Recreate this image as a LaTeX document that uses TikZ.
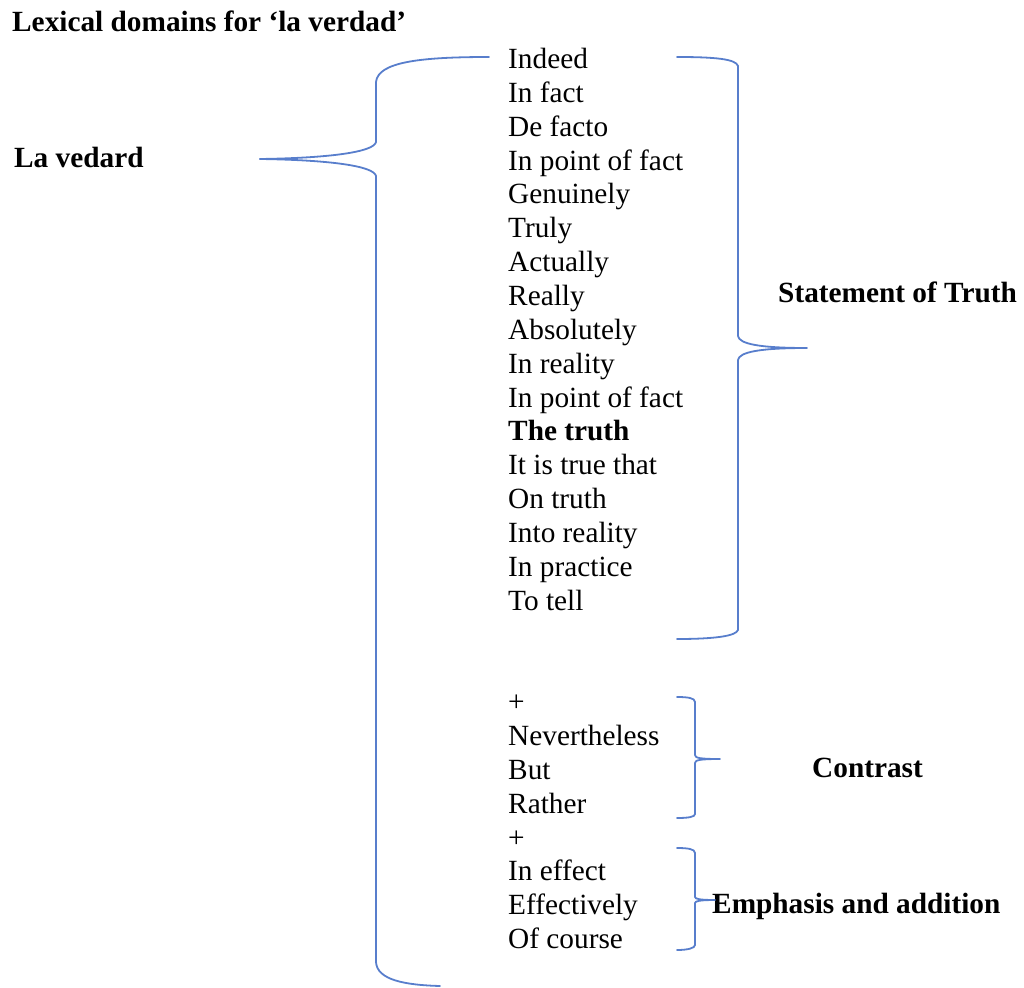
\documentclass[tikz,border=0pt]{standalone}
\usepackage{fontspec}
\setmainfont{Liberation Serif}
\definecolor{braceblue}{RGB}{88,126,204}
\begin{document}
\begin{tikzpicture}[x=1pt,y=-1pt,
  item/.style={anchor=base west, inner sep=0pt, font=\fontsize{29.3}{33.85}\selectfont},
  head/.style={anchor=base west, inner sep=0pt, font=\fontsize{29.3}{33.85}\selectfont\bfseries},
  brace/.style={draw=braceblue, line width=1.8pt, line join=round, line cap=round}]
\useasboundingbox (0,0) rectangle (1024,987);

% headings
\node[head] (title) at (12,31.5) {Lexical domains for ‘la verdad’};
\node[head] (root) at (14,167.5) {La vedard};

% word list
\foreach \i/\t in {0/Indeed, 1/In fact, 2/De facto, 3/In point of fact,
  4/Genuinely, 5/Truly, 6/Actually, 7/Really, 8/Absolutely, 9/In reality,
  10/In point of fact, 11/{\textbf{The truth}}, 12/It is true that,
  13/On truth, 14/Into reality, 15/In practice, 16/To tell,
  19/+, 20/Nevertheless, 21/But, 22/Rather,
  23/+, 24/In effect, 25/Effectively, 26/Of course}
  \node[item] (w\i) at (508,{68.5+33.85*\i}) {\t};

% domain labels
\node[head] (truth) at (778,302.5) {Statement of Truth};
\node[head] (contrast) at (812,777.5) {Contrast};
\node[head] (emph) at (712,913.5) {Emphasis and addition};

% large left brace
\draw[brace] (489,57) .. controls (420,57) and (378,62) .. (376,82)
  -- (376,142) .. controls (374,152) and (330,158) .. (260,159);
\draw[brace] (260,159) .. controls (330,160) and (374,166) .. (376,176)
  -- (376,962) .. controls (377,980) and (405,985) .. (440,986);

% brace for statement of truth
\draw[brace] (677,57) .. controls (715,57) and (736,59) .. (738,66)
  -- (738,336) .. controls (739,344) and (760,348) .. (807,348)
  .. controls (760,348) and (739,352) .. (738,360)
  -- (738,630) .. controls (736,636) and (715,639) .. (677,639);

% brace for contrast
\draw[brace] (677,697) .. controls (688,697) and (695,698) .. (695,702)
  -- (695,755) .. controls (695,758) and (700,759) .. (720,759)
  .. controls (700,759) and (695,760) .. (695,763)
  -- (695,814) .. controls (695,817) and (688,818) .. (677,818);

% brace for emphasis and addition
\draw[brace] (677,848) .. controls (688,848) and (695,849) .. (695,853)
  -- (695,897) .. controls (695,899) and (700,900) .. (715,900)
  .. controls (700,900) and (695,901) .. (695,903)
  -- (695,945) .. controls (695,948) and (688,950) .. (677,950);
\end{tikzpicture}
\end{document}
